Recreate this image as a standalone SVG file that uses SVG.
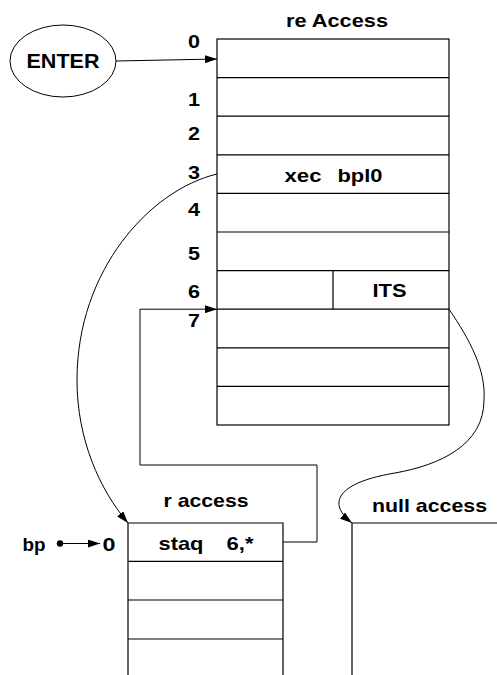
<svg xmlns="http://www.w3.org/2000/svg" width="497" height="675" viewBox="0 0 497 675">
<style>
text{font-family:"Liberation Sans",Arial,Helvetica,sans-serif;font-weight:bold;font-size:19px;fill:#000}
.box{fill:none;stroke:#000;stroke-width:1.2}
.ln{fill:none;stroke:#000;stroke-width:1}
.big{font-size:21px}
</style>
<defs>
<marker id="ah" viewBox="0 0 12 8" refX="12" refY="4" markerWidth="12" markerHeight="8" markerUnits="userSpaceOnUse" orient="auto">
<path d="M0,0 L12,4 L0,8 Z" fill="#000"/>
</marker>
</defs>
<rect width="497" height="675" fill="#fff"/>

<g id="enter">
<ellipse cx="63" cy="61" rx="53" ry="36" class="ln"/>
<text class="big" x="26.5" y="68" textLength="73" lengthAdjust="spacingAndGlyphs">ENTER</text>
</g>

<g id="re-access">
<text x="286" y="27" textLength="102" lengthAdjust="spacingAndGlyphs">re Access</text>
<rect x="217" y="39" width="232" height="386" class="box"/>
<path class="box" d="M217,77.6H449M217,116.2H449M217,154.8H449M217,193.4H449M217,232H449M217,270.6H449M217,309.2H449M217,347.8H449M217,386.4H449M333,270.6V309.2"/>
<text x="188" y="48" textLength="12" lengthAdjust="spacingAndGlyphs">0</text>
<text x="188" y="106" textLength="12" lengthAdjust="spacingAndGlyphs">1</text>
<text x="188" y="140" textLength="12" lengthAdjust="spacingAndGlyphs">2</text>
<text x="188" y="179" textLength="12" lengthAdjust="spacingAndGlyphs">3</text>
<text x="188" y="216" textLength="12" lengthAdjust="spacingAndGlyphs">4</text>
<text x="188" y="260" textLength="12" lengthAdjust="spacingAndGlyphs">5</text>
<text x="188" y="298" textLength="12" lengthAdjust="spacingAndGlyphs">6</text>
<text x="188" y="327" textLength="12" lengthAdjust="spacingAndGlyphs">7</text>
<text y="182"><tspan x="284.5" textLength="37" lengthAdjust="spacingAndGlyphs">xec</tspan><tspan x="337.5" textLength="45" lengthAdjust="spacingAndGlyphs">bpl0</tspan></text>
<text x="372.5" y="297" textLength="34" lengthAdjust="spacingAndGlyphs">ITS</text>
</g>

<g id="r-access">
<text x="163.5" y="507" textLength="85" lengthAdjust="spacingAndGlyphs">r access</text>
<path class="box" d="M128,675V523H283V675M128,561.3H283M128,600H283M128,639H283"/>
<text y="550"><tspan x="158.5" textLength="45" lengthAdjust="spacingAndGlyphs">staq</tspan><tspan x="226.5" textLength="27" lengthAdjust="spacingAndGlyphs">6,*</tspan></text>
</g>

<g id="null-access">
<text x="372" y="512" textLength="115" lengthAdjust="spacingAndGlyphs">null access</text>
<path class="box" d="M352,675V523H497"/>
</g>

<g id="bp">
<text x="22.5" y="551" textLength="23" lengthAdjust="spacingAndGlyphs">bp</text>
<circle cx="60" cy="543.5" r="3.2" fill="#000"/>
<text x="102.5" y="551" textLength="13" lengthAdjust="spacingAndGlyphs">0</text>
</g>

<g id="connectors">
<path class="ln" d="M60,543.5H100" marker-end="url(#ah)"/>
<path class="ln" d="M116,61L217,59" marker-end="url(#ah)"/>
<path class="ln" d="M217,174C150,190 77,270 77,380C77,440 100,490 128,523" marker-end="url(#ah)"/>
<path class="ln" d="M283,542H317V465H140V309.2H217" marker-end="url(#ah)"/>
<path class="ln" d="M449,309.2C470,340 486,370 484,400C484,445 440,465 395,473C340,482 325,502 352,523" marker-end="url(#ah)"/>
</g>
</svg>
